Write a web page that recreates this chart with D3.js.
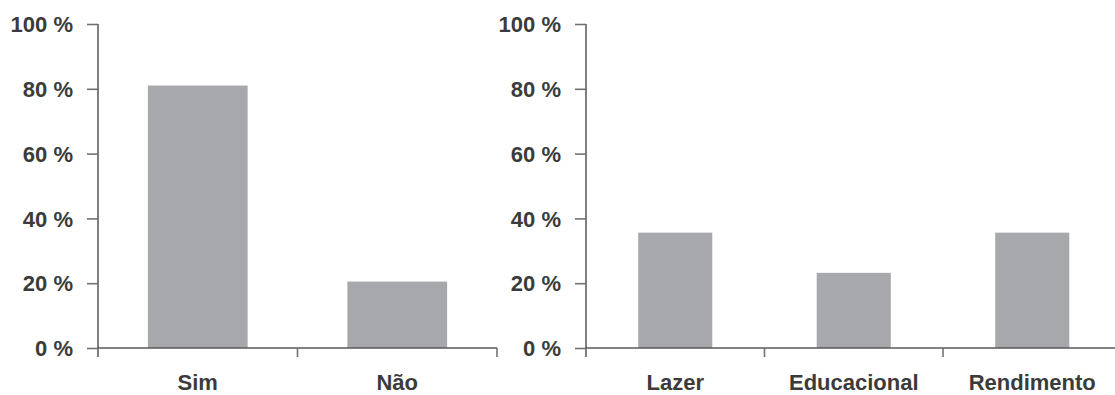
<!DOCTYPE html>
<html>
<head>
<meta charset="utf-8">
<script src="https://cdn.jsdelivr.net/npm/d3@7"></script>
<style>
  html, body { margin: 0; padding: 0; background: #ffffff; }
  svg { display: block; }
  .lbl { font-family: "Liberation Sans", Arial, sans-serif; font-weight: bold; font-size: 22px; fill: #3b3b3b; }
</style>
</head>
<body>
<svg id="chart" width="1115" height="395"></svg>
<script>
// Left panel: yes / no answers
const answerCategories = ["Sim", "Não"];
const answerValues = [81, 20.5];

// Right panel: purpose of use
const purposeCategories = ["Lazer", "Educacional", "Rendimento"];
const purposeValues = [35.6, 23.2, 35.6];

// Shared percentage axis
const percentTicks = [0, 20, 40, 60, 80, 100];

const svg = d3.select("#chart");
const barColor = "#a6a8ab";
const axisColor = "#727272";

const yTop = 24, yBottom = 348, tickDrop = 9;
const y = d3.scaleLinear().domain([0, 100]).range([yBottom, yTop]);

function panel(cats, vals, x0, x1, barFrac) {
  const g = svg.append("g");
  const x = d3.scaleBand().domain(cats).range([x0, x1])
    .paddingInner(1 - barFrac).paddingOuter((1 - barFrac) / 2);

  // bars
  g.selectAll("rect.bar").data(cats).enter().append("rect")
    .attr("class", "bar")
    .attr("x", d => x(d))
    .attr("width", x.bandwidth())
    .attr("y", (d, i) => y(vals[i]))
    .attr("height", (d, i) => yBottom - y(vals[i]))
    .attr("fill", barColor);

  // y axis
  const yAxis = d3.axisLeft(y).tickValues(percentTicks)
    .tickFormat(d => d + " %").tickSize(11).tickSizeOuter(0).tickPadding(14);
  const ya = g.append("g").attr("transform", `translate(${x0},0)`).call(yAxis);
  ya.select(".domain").remove();
  ya.selectAll(".tick line").attr("stroke", axisColor).attr("stroke-width", 1.6);
  ya.selectAll(".tick text").attr("class", "lbl").attr("dy", "0.35em");
  g.append("line").attr("x1", x0).attr("x2", x0)
    .attr("y1", yTop).attr("y2", yBottom + tickDrop)
    .attr("stroke", axisColor).attr("stroke-width", 1.8);

  // x axis baseline with boundary ticks
  g.append("line").attr("x1", x0).attr("x2", x1)
    .attr("y1", yBottom).attr("y2", yBottom)
    .attr("stroke", "#5a5a5a").attr("stroke-width", 1.4);
  const bounds = d3.range(1, cats.length + 1).map(i => x0 + x.step() * i);
  g.selectAll("line.bt").data(bounds).enter().append("line")
    .attr("class", "bt")
    .attr("x1", d => d).attr("x2", d => d)
    .attr("y1", yBottom).attr("y2", yBottom + tickDrop)
    .attr("stroke", axisColor).attr("stroke-width", 1.6);

  // category labels
  const xAxis = d3.axisBottom(x).tickSize(0).tickPadding(0);
  const xa = g.append("g").attr("transform", `translate(0,${yBottom})`).call(xAxis);
  xa.select(".domain").remove();
  xa.selectAll(".tick text").attr("class", "lbl").attr("y", 42).attr("dy", 0);
}

panel(answerCategories, answerValues, 98, 497, 0.5);
panel(purposeCategories, purposeValues, 586, 1121.5, 0.415);
</script>
</body>
</html>
